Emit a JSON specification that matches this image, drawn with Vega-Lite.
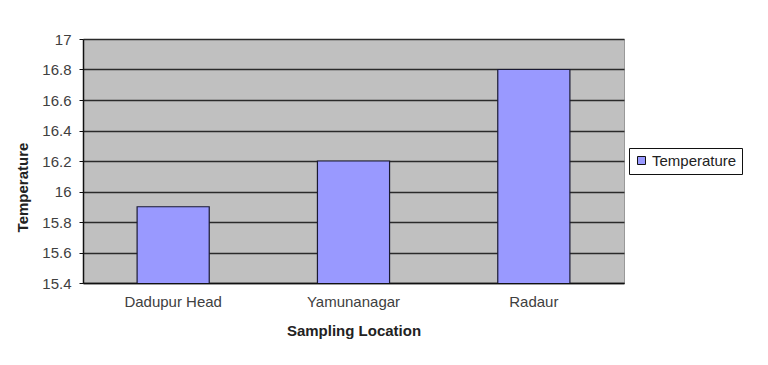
{
  "$schema": "https://vega.github.io/schema/vega-lite/v6.json",
  "autosize": "none",
  "width": 541,
  "height": 244,
  "padding": {"left": 83, "top": 39, "right": 144, "bottom": 82},
  "background": "white",
  "data": {
    "values": [
      {"location": "Dadupur Head", "temperature": 15.9, "series": "Temperature"},
      {"location": "Yamunanagar", "temperature": 16.2, "series": "Temperature"},
      {"location": "Radaur", "temperature": 16.8, "series": "Temperature"}
    ]
  },
  "config": {
    "view": {"fill": "#c0c0c0", "stroke": "#999999"},
    "font": "Liberation Sans"
  },
  "mark": {"type": "bar", "stroke": "#1a1a33", "strokeWidth": 1.2, "clip": true},
  "encoding": {
    "x": {
      "field": "location",
      "type": "nominal",
      "sort": null,
      "scale": {"paddingInner": 0.6, "paddingOuter": 0.3},
      "axis": {
        "title": "Sampling Location",
        "labelAngle": 0,
        "labelFontSize": 15,
        "labelColor": "#404040",
        "labelPadding": 11,
        "ticks": false,
        "domainColor": "#111111",
        "domainWidth": 1.5,
        "titleFontSize": 15,
        "titleFontWeight": "bold",
        "titleColor": "#222222",
        "titlePadding": 14
      }
    },
    "y": {
      "field": "temperature",
      "type": "quantitative",
      "scale": {"domain": [15.4, 17], "zero": false, "nice": false},
      "axis": {
        "title": "Temperature",
        "values": [15.4, 15.6, 15.8, 16, 16.2, 16.4, 16.6, 16.8, 17],
        "format": "~g",
        "labelFontSize": 15,
        "labelColor": "#404040",
        "labelPadding": 8,
        "tickSize": 4,
        "tickColor": "#111111",
        "domainColor": "#111111",
        "domainWidth": 1.5,
        "gridColor": "#2a2a2a",
        "gridWidth": 1.3,
        "titleFontSize": 15,
        "titleFontWeight": "bold",
        "titleColor": "#222222",
        "titleX": -61,
        "titleY": 148,
        "titleBaseline": "middle"
      }
    },
    "color": {
      "field": "series",
      "type": "nominal",
      "scale": {"range": ["#9999ff"]},
      "legend": {
        "title": null,
        "orient": "none",
        "legendX": 546,
        "legendY": 109,
        "symbolType": "square",
        "symbolSize": 64,
        "symbolStrokeColor": "#111111",
        "symbolStrokeWidth": 1,
        "labelFontSize": 15,
        "labelColor": "#222222",
        "strokeColor": "#111111",
        "padding": 5,
        "labelOffset": 3,
        "fillColor": "white"
      }
    }
  }
}
